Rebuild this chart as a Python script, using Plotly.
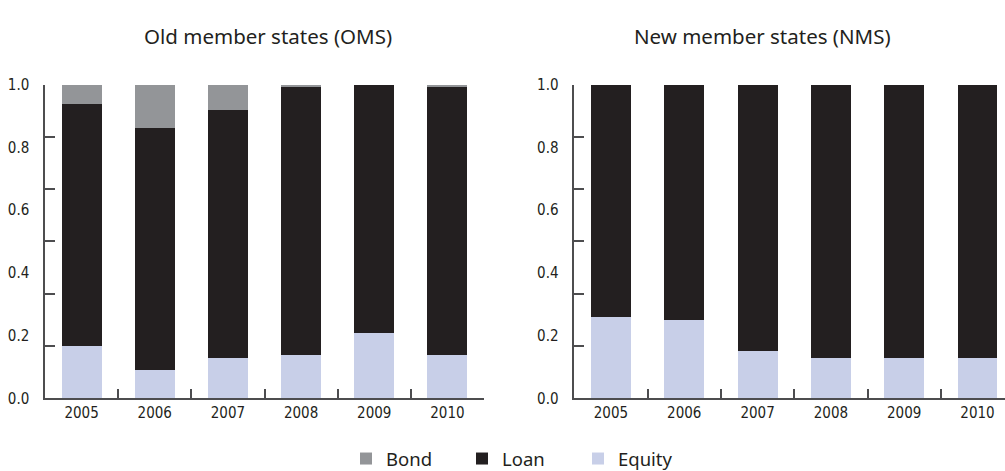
import plotly.graph_objects as go

years = ["2005", "2006", "2007", "2008", "2009", "2010"]

# Old member states (OMS) shares
oms_equity = [0.167, 0.090, 0.130, 0.138, 0.208, 0.138]
oms_loan = [0.772, 0.770, 0.790, 0.853, 0.792, 0.853]
oms_bond = [0.061, 0.140, 0.080, 0.009, 0.000, 0.009]

# New member states (NMS) shares
nms_equity = [0.259, 0.250, 0.150, 0.129, 0.129, 0.129]
nms_loan = [0.741, 0.750, 0.850, 0.871, 0.871, 0.871]
nms_bond = [0.0, 0.0, 0.0, 0.0, 0.0, 0.0]

y_labels = [0.0, 0.2, 0.4, 0.6, 0.8, 1.0]
y_marks = [k / 6 for k in range(7)]

titles = ["Old member states (OMS)", "New member states (NMS)"]

C_BOND = "#939598"
C_LOAN = "#231f20"
C_EQ = "#c8cfe8"
AX = "#4d4d4f"
FONT = "DejaVu Sans Condensed, Liberation Sans Narrow, sans-serif"
TFONT = "Noto Sans, Open Sans, sans-serif"

fig = go.Figure()

panels = [
    ("x", "y", "y3", oms_equity, oms_loan, oms_bond, True),
    ("x2", "y2", "y4", nms_equity, nms_loan, nms_bond, False),
]
for xa, ya, yo, eq, ln, bd, show in panels:
    fig.add_trace(go.Bar(x=years, y=eq, name="Equity", marker_color=C_EQ,
                         xaxis=xa, yaxis=ya, showlegend=show, legendrank=3,
                         marker_line_width=0))
    fig.add_trace(go.Bar(x=years, y=ln, name="Loan", marker_color=C_LOAN,
                         xaxis=xa, yaxis=ya, showlegend=show, legendrank=2,
                         marker_line_width=0))
    fig.add_trace(go.Bar(x=years, y=bd, name="Bond", marker_color=C_BOND,
                         xaxis=xa, yaxis=ya, showlegend=show, legendrank=1,
                         marker_line_width=0))
    # empty helper trace so the overlay axis carrying the tick marks is drawn
    fig.add_trace(go.Scatter(x=[years[0]], y=[None], xaxis=xa, yaxis=yo,
                             mode="markers", showlegend=False, hoverinfo="skip"))

W, H = 1005, 471
ydom = [1 - 398.3 / H, 1 - 84.5 / H]

xcommon = dict(type="category", showline=True, linecolor=AX, linewidth=1.5,
               ticks="inside", tickson="boundaries", ticklen=10, tickcolor=AX,
               tickwidth=1.5, showgrid=False, zeroline=False, automargin=False,
               tickfont=dict(family=FONT, size=15, color="#231f20"))
ycommon = dict(range=[0, 1], tickvals=y_labels, ticktext=["%.1f" % v for v in y_labels],
               ticks="", showline=True, linecolor=AX, linewidth=1.5,
               showgrid=False, zeroline=False, ticklabelstandoff=11, automargin=False,
               tickfont=dict(family=FONT, size=15, color="#231f20"))
ymarks = dict(range=[0, 1], tickvals=y_marks, showticklabels=False, ticks="inside",
              ticklen=10, tickcolor=AX, tickwidth=1.5, showline=False,
              showgrid=False, zeroline=False, automargin=False)

fig.update_layout(
    width=W, height=H,
    margin=dict(l=0, r=0, t=0, b=0, autoexpand=False),
    paper_bgcolor="white", plot_bgcolor="white",
    barmode="stack", bargap=0.455,
    xaxis=dict(domain=[45 / W, 484 / W], range=[-0.5, 5.5], anchor="y", **xcommon),
    xaxis2=dict(domain=[574.3 / W, 1.0], range=[-0.5, 5.375], anchor="y2", **xcommon),
    yaxis=dict(domain=ydom, anchor="x", **ycommon),
    yaxis2=dict(domain=ydom, anchor="x2", **ycommon),
    yaxis3=dict(domain=ydom, anchor="x", overlaying="y", **ymarks),
    yaxis4=dict(domain=ydom, anchor="x2", overlaying="y2", **ymarks),
    legend=dict(orientation="h", x=346 / W, xanchor="left", y=-7 / H, yanchor="bottom",
                traceorder="normal", entrywidth=71, entrywidthmode="pixels",
                font=dict(family=TFONT, size=18.5, color="#231f20")),
    annotations=[
        dict(text=titles[0], x=268 / W, y=1 - 36 / H, xref="paper", yref="paper",
             showarrow=False, xanchor="center", yanchor="middle",
             font=dict(family=TFONT, size=20.5, color="#231f20")),
        dict(text=titles[1], x=762 / W, y=1 - 36 / H, xref="paper", yref="paper",
             showarrow=False, xanchor="center", yanchor="middle",
             font=dict(family=TFONT, size=20.5, color="#231f20")),
    ],
)

fig.write_html("out.html", config={"displayModeBar": False},
               post_script="document.body.style.margin='0px';")
